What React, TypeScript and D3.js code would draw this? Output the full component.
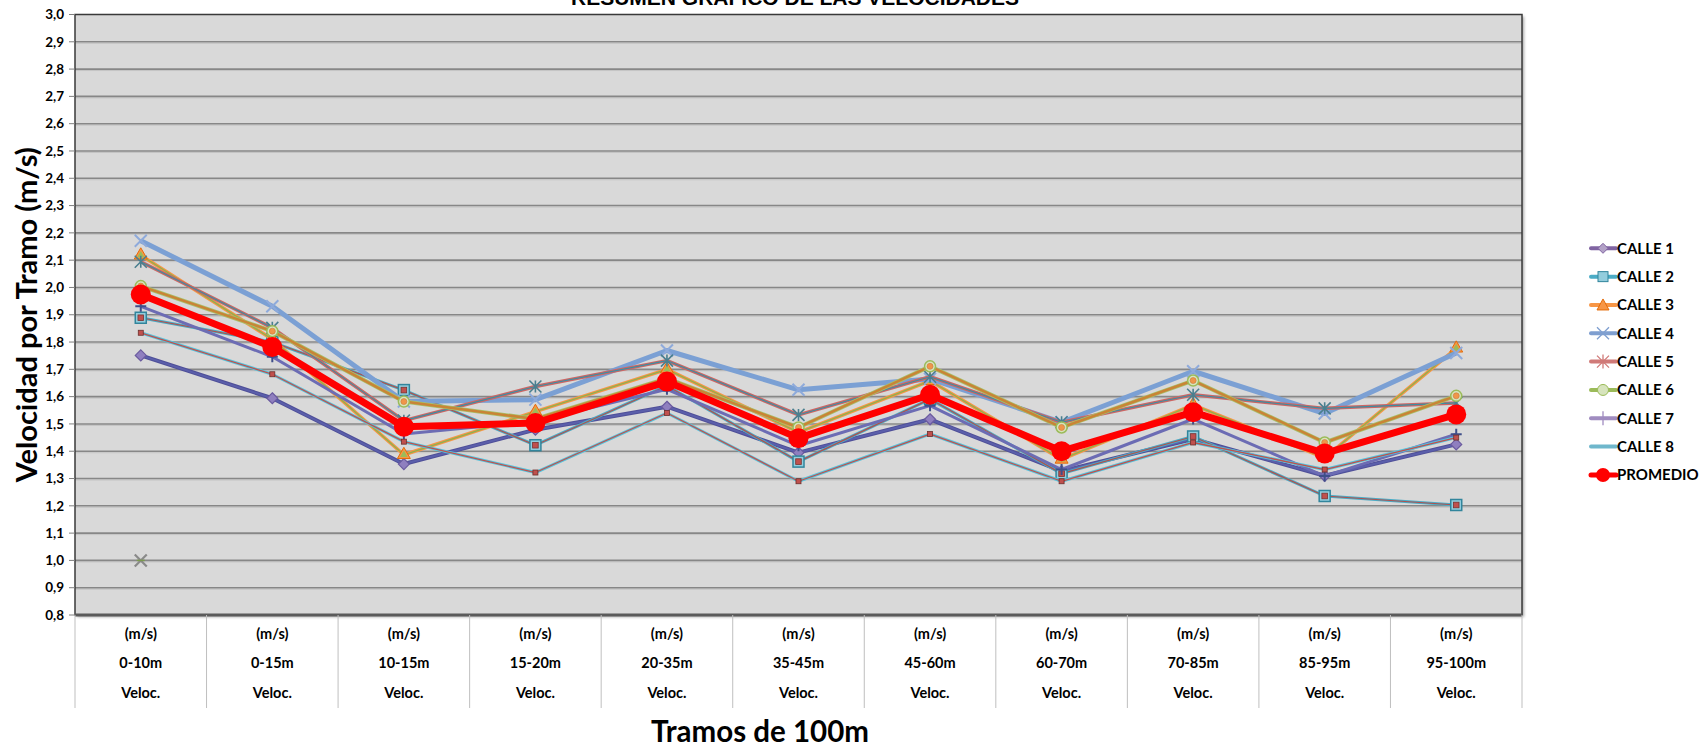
import React from "react";
import * as d3 from "d3";

const categories = ["0-10m", "0-15m", "10-15m", "15-20m", "20-35m", "35-45m", "45-60m", "60-70m", "70-85m", "85-95m", "95-100m"];
const yTicks = [0.8, 0.9, 1.0, 1.1, 1.2, 1.3, 1.4, 1.5, 1.6, 1.7, 1.8, 1.9, 2.0, 2.1, 2.2, 2.3, 2.4, 2.5, 2.6, 2.7, 2.8, 2.9, 3.0];

const calle1 = [1.751, 1.594, 1.353, 1.479, 1.563, 1.395, 1.517, 1.327, 1.445, 1.31, 1.425];
const calle2 = [1.889, 1.80, 1.624, 1.422, 1.64, 1.362, 1.591, 1.318, 1.454, 1.236, 1.203];
const calle3 = [2.118, 1.81, 1.387, 1.545, 1.70, 1.469, 1.658, 1.37, 1.57, 1.376, 1.777];
const calle4 = [2.171, 1.931, 1.582, 1.589, 1.769, 1.625, 1.665, 1.506, 1.693, 1.538, 1.76];
const calle5 = [2.094, 1.852, 1.512, 1.637, 1.732, 1.533, 1.673, 1.506, 1.607, 1.557, 1.577];
const calle6 = [2.005, 1.84, 1.582, 1.518, 1.667, 1.487, 1.711, 1.487, 1.659, 1.432, 1.603];
const calle7 = [1.931, 1.746, 1.463, 1.51, 1.627, 1.42, 1.567, 1.333, 1.518, 1.309, 1.462];
const calle8 = [1.834, 1.682, 1.435, 1.322, 1.54, 1.29, 1.463, 1.29, 1.432, 1.333, 1.45];
const promedio = [1.974, 1.782, 1.49, 1.503, 1.655, 1.448, 1.607, 1.40, 1.543, 1.392, 1.535];
const isolatedCategory = ["0-10m"];
const isolatedValue = [1.0];

const seriesNames = ["CALLE 1", "CALLE 2", "CALLE 3", "CALLE 4", "CALLE 5", "CALLE 6", "CALLE 7", "CALLE 8", "PROMEDIO"];
const seriesValues = [calle1, calle2, calle3, calle4, calle5, calle6, calle7, calle8, promedio];

type Style = {
  outer: string; outerW: number; inner?: string; innerW?: number;
  marker: string; mSize: number; mFill: string; mStroke: string; mInner?: string;
  legend: string; legendFill: string; legendStroke: string;
};

const styles: Style[] = [
  { outer: "#4f4f98", outerW: 4, inner: "#5b5fab", innerW: 2, marker: "diamond", mSize: 9, mFill: "#8f7fbf", mStroke: "#6a5a9f", legend: "#8064a2", legendFill: "#b3a2c7", legendStroke: "#8064a2" },
  { outer: "#4bacc6", outerW: 3, inner: "#b0504d", innerW: 1.2, marker: "square", mSize: 11, mFill: "#93cddd", mStroke: "#31859c", mInner: "#c0504d", legend: "#4bacc6", legendFill: "#93cddd", legendStroke: "#31859c" },
  { outer: "#f79646", outerW: 3.5, inner: "#8fb04f", innerW: 1.3, marker: "triangle", mSize: 11, mFill: "#f79646", mStroke: "#e46c0a", mInner: "#9bbb59", legend: "#f79646", legendFill: "#f79646", legendStroke: "#e46c0a" },
  { outer: "#7ba0d4", outerW: 5, marker: "times", mSize: 12, mFill: "none", mStroke: "#8eaadb", legend: "#7f9fd0", legendFill: "none", legendStroke: "#7f9fd0" },
  { outer: "#cc6664", outerW: 3.5, inner: "#3a8ea3", innerW: 1.1, marker: "asterisk", mSize: 12, mFill: "none", mStroke: "#4a7f8f", legend: "#d07a78", legendFill: "none", legendStroke: "#d07a78" },
  { outer: "#a8c06a", outerW: 4, inner: "#c98436", innerW: 2.5, marker: "circle", mSize: 11, mFill: "#d7e4bd", mStroke: "#9bbb59", mInner: "#f0954a", legend: "#9bbb59", legendFill: "#d7e4bd", legendStroke: "#9bbb59" },
  { outer: "#6c6cb4", outerW: 3, marker: "plus", mSize: 11, mFill: "none", mStroke: "#3f4f8a", legend: "#a08cc0", legendFill: "none", legendStroke: "#a08cc0" },
  { outer: "#55c3dc", outerW: 3, inner: "#c0504d", innerW: 1.3, marker: "smallsquare", mSize: 5, mFill: "#c0504d", mStroke: "#6b2e2c", legend: "#6fb7cc", legendFill: "none", legendStroke: "none" },
  { outer: "#ff0000", outerW: 7, marker: "bigcircle", mSize: 20, mFill: "#ff0000", mStroke: "#ff0000", legend: "#ff0000", legendFill: "#ff0000", legendStroke: "#ff0000" },
];

const W = 1708, H = 747;
const plotL = 75, plotR = 1522, plotT = 14.5, plotB = 615;
const FONT = "Lato, 'Open Sans', sans-serif";

function Marker({ kind, cx, cy, s, fill, stroke, inner }: { kind: string; cx: number; cy: number; s: number; fill: string; stroke: string; inner?: string }) {
  if (kind === "diamond") {
    const r = s / 2 + 1;
    return <path d={`M${cx},${cy - r}L${cx + r},${cy}L${cx},${cy + r}L${cx - r},${cy}Z`} fill={fill} stroke={stroke} strokeWidth={1.2} />;
  }
  if (kind === "square") {
    return (
      <g>
        <rect x={cx - s / 2} y={cy - s / 2} width={s} height={s} fill={fill} stroke={stroke} strokeWidth={1.5} />
        {inner && <rect x={cx - 2.8} y={cy - 2.8} width={5.6} height={5.6} fill={inner} stroke="#7a3230" strokeWidth={0.8} />}
      </g>
    );
  }
  if (kind === "smallsquare") {
    return <rect x={cx - s / 2} y={cy - s / 2} width={s} height={s} fill={fill} stroke={stroke} strokeWidth={0.8} />;
  }
  if (kind === "triangle") {
    const p = d3.symbol(d3.symbolTriangle, s * s * 0.6)();
    const p2 = d3.symbol(d3.symbolTriangle, s * s * 0.2)();
    return (
      <g transform={`translate(${cx},${cy})`}>
        <path d={p || ""} fill={fill} stroke={stroke} strokeWidth={1} />
        {inner && <path d={p2 || ""} fill={inner} />}
      </g>
    );
  }
  if (kind === "times") {
    const r = s / 2;
    return <path d={`M${cx - r},${cy - r}L${cx + r},${cy + r}M${cx - r},${cy + r}L${cx + r},${cy - r}`} stroke={stroke} strokeWidth={2} fill="none" />;
  }
  if (kind === "asterisk") {
    const r = s / 2;
    return <path d={`M${cx - r},${cy - r}L${cx + r},${cy + r}M${cx - r},${cy + r}L${cx + r},${cy - r}M${cx},${cy - r}L${cx},${cy + r}`} stroke={stroke} strokeWidth={1.6} fill="none" />;
  }
  if (kind === "plus") {
    const r = s / 2;
    return <path d={`M${cx - r},${cy}L${cx + r},${cy}M${cx},${cy - r}L${cx},${cy + r}`} stroke={stroke} strokeWidth={2} fill="none" />;
  }
  if (kind === "circle") {
    return (
      <g>
        <circle cx={cx} cy={cy} r={s / 2} fill={fill} stroke={stroke} strokeWidth={1.5} />
        {inner && <circle cx={cx} cy={cy} r={s / 2 - 2.5} fill={inner} stroke="#c87a3a" strokeWidth={0.6} />}
      </g>
    );
  }
  if (kind === "bigcircle") {
    return <circle cx={cx} cy={cy} r={s / 2} fill={fill} />;
  }
  return null;
}

export default function App() {
  const x = d3.scaleBand<string>().domain(categories).range([plotL, plotR]);
  const bw = x.bandwidth();
  const cx = (c: string) => (x(c) as number) + bw / 2;
  const y = d3.scaleLinear().domain([0.8, 3.0]).range([plotB, plotT]);

  const line = d3.line<number>().x((_, i) => cx(categories[i])).y((d) => y(d));

  const legendX = 1591, legendY0 = 248.3, legendStep = 28.33;

  return (
    <svg width={W} height={H} style={{ position: "absolute", left: 0, top: 0, background: "#fff" }} fontFamily={FONT}>
      <defs>
        <filter id="shadow" x="-5%" y="-5%" width="110%" height="110%">
          <feDropShadow dx="2" dy="2" stdDeviation="1.5" floodColor="#000" floodOpacity="0.35" />
        </filter>
      </defs>
      {/* title (clipped at top, as in the source image) */}
      <text x={795} y={5} textAnchor="middle" fontSize={21} fontWeight={700} fontFamily="'Liberation Sans', Arial, sans-serif" fill="#000">
        RESUMEN GRÁFICO DE LAS VELOCIDADES
      </text>

      {/* plot background */}
      <rect x={plotL} y={plotT} width={plotR - plotL} height={plotB - plotT} fill="#d9d9d9" filter="url(#shadow)" />

      {/* gridlines */}
      {yTicks.filter((t) => t > 0.85 && t < 2.95).map((t) => (
        <g key={t}>
          <line x1={plotL} x2={plotR} y1={y(t) + 1.5} y2={y(t) + 1.5} stroke="#c4c4c4" strokeWidth={1} />
          <line x1={plotL} x2={plotR} y1={y(t)} y2={y(t)} stroke="#878787" strokeWidth={1.6} />
        </g>
      ))}

      {/* plot border */}
      <rect x={plotL} y={plotT} width={plotR - plotL} height={plotB - plotT} fill="none" stroke="#3a3a3a" strokeWidth={1.5} />
      <line x1={plotL} x2={plotR} y1={plotB} y2={plotB} stroke="#5a5a5a" strokeWidth={3} />

      {/* y ticks & labels */}
      {yTicks.map((t) => (
        <g key={"yt" + t}>
          <line x1={plotL - 6} x2={plotL} y1={y(t)} y2={y(t)} stroke="#7f7f7f" strokeWidth={1} />
          <text x={plotL - 11} y={y(t)} dy="0.35em" textAnchor="end" fontSize={13.5} fontWeight={700} fill="#000">
            {t.toFixed(1).replace(".", ",")}
          </text>
        </g>
      ))}

      {/* y axis title */}
      <text transform={`translate(27,${(plotT + plotB) / 2}) rotate(-90)`} textAnchor="middle" dy="0.35em" fontSize={29} fontWeight={700} fill="#000">
        Velocidad por Tramo (m/s)
      </text>

      {/* category dividers & labels */}
      {categories.map((c, i) => (
        <g key={"c" + c}>
          <line x1={x(c) as number} x2={x(c) as number} y1={plotB} y2={708} stroke="#bfbfbf" strokeWidth={1} />
          {i === categories.length - 1 && (
            <line x1={plotR} x2={plotR} y1={plotB} y2={708} stroke="#bfbfbf" strokeWidth={1} />
          )}
          <text x={cx(c)} y={634} dy="0.35em" textAnchor="middle" fontSize={14.5} fontWeight={700}>(m/s)</text>
          <text x={cx(c)} y={663} dy="0.35em" textAnchor="middle" fontSize={14.5} fontWeight={700}>{c}</text>
          <text x={cx(c)} y={693} dy="0.35em" textAnchor="middle" fontSize={14.5} fontWeight={700}>Veloc.</text>
        </g>
      ))}

      {/* x axis title */}
      <text x={760} y={732} dy="0.35em" textAnchor="middle" fontSize={29.5} fontWeight={700} fill="#000">
        Tramos de 100m
      </text>

      {/* series lines */}
      {seriesValues.map((vals, si) => {
        const st = styles[si];
        const d = line(vals) || "";
        return (
          <g key={"s" + si}>
            <path d={d} fill="none" stroke={st.outer} strokeWidth={st.outerW} strokeLinejoin="round" />
            {st.inner && <path d={d} fill="none" stroke={st.inner} strokeWidth={st.innerW} strokeLinejoin="round" />}
            {vals.map((v, i) => (
              <Marker key={i} kind={st.marker} cx={cx(categories[i])} cy={y(v)} s={st.mSize} fill={st.mFill} stroke={st.mStroke} inner={st.mInner} />
            ))}
          </g>
        );
      })}

      {/* isolated point */}
      {isolatedValue.map((v, i) => (
        <g key={"iso" + i}>
          <path d={`M${cx(isolatedCategory[i]) - 6},${y(v) - 6}L${cx(isolatedCategory[i]) + 6},${y(v) + 6}M${cx(isolatedCategory[i]) - 6},${y(v) + 6}L${cx(isolatedCategory[i]) + 6},${y(v) - 6}`} stroke="#8a8a8a" strokeWidth={2.2} />
          <line x1={cx(isolatedCategory[i]) - 4} x2={cx(isolatedCategory[i]) + 4} y1={y(v)} y2={y(v)} stroke="#7c9a50" strokeWidth={1.5} />
        </g>
      ))}

      {/* legend */}
      {seriesNames.map((n, i) => {
        const st = styles[i];
        const ly = legendY0 + i * legendStep;
        const mx = legendX + 12;
        return (
          <g key={"l" + n}>
            <line x1={legendX} x2={legendX + 25} y1={ly} y2={ly} stroke={st.legend} strokeWidth={i === 8 ? 5 : 4} strokeLinecap="round" />
            {st.marker === "diamond" && <path d={`M${mx},${ly - 5}L${mx + 5},${ly}L${mx},${ly + 5}L${mx - 5},${ly}Z`} fill={st.legendFill} stroke={st.legendStroke} strokeWidth={1} />}
            {st.marker === "square" && <rect x={mx - 5} y={ly - 5} width={10} height={10} fill={st.legendFill} stroke={st.legendStroke} strokeWidth={1} />}
            {st.marker === "triangle" && <path d={`M${mx},${ly - 6}L${mx + 6},${ly + 5}L${mx - 6},${ly + 5}Z`} fill={st.legendFill} stroke={st.legendStroke} strokeWidth={1} />}
            {st.marker === "times" && <path d={`M${mx - 6},${ly - 6}L${mx + 6},${ly + 6}M${mx - 6},${ly + 6}L${mx + 6},${ly - 6}`} stroke={st.legendStroke} strokeWidth={1.3} />}
            {st.marker === "asterisk" && <path d={`M${mx - 6},${ly - 6}L${mx + 6},${ly + 6}M${mx - 6},${ly + 6}L${mx + 6},${ly - 6}M${mx},${ly - 7}L${mx},${ly + 7}`} stroke={st.legendStroke} strokeWidth={1.3} />}
            {st.marker === "circle" && <circle cx={mx} cy={ly} r={5.5} fill={st.legendFill} stroke={st.legendStroke} strokeWidth={1} />}
            {st.marker === "plus" && <path d={`M${mx},${ly - 7}L${mx},${ly + 7}`} stroke={st.legendStroke} strokeWidth={1.3} />}
            {st.marker === "bigcircle" && <circle cx={mx} cy={ly} r={7} fill={st.legendFill} />}
            <text x={legendX + 26} y={ly} dy="0.36em" fontSize={15} fontWeight={700} fill="#000">{n}</text>
          </g>
        );
      })}
    </svg>
  );
}
